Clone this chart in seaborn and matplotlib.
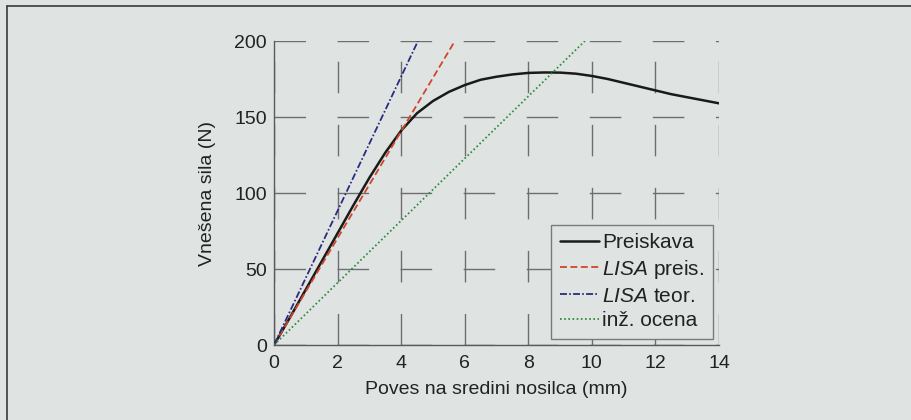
import matplotlib
matplotlib.use("Agg")
import matplotlib.pyplot as plt
import seaborn as sns
import pandas as pd
from matplotlib.lines import Line2D

# ---- data ----
preiskava_x = [0, 0.5, 1, 1.5, 2, 2.5, 3, 3.5, 4, 4.5, 5, 5.5, 6, 6.5, 7, 7.5, 8, 8.5,
               9, 9.5, 10, 10.5, 11, 11.5, 12, 12.5, 13, 13.5, 14, 14.1]
preiskava_y = [0, 18, 36.5, 55, 73.5, 92, 110, 126.5, 141, 152.5, 160.5, 166.5, 171, 174.5,
               176.5, 178, 179, 179.3, 179.2, 178.5, 177, 175, 172.5, 170, 167.5, 165, 163,
               161, 159, 158.5]
lisa_preis_x = [0, 5.69]
lisa_preis_y = [0, 200]
lisa_teor_x = [0, 4.53]
lisa_teor_y = [0, 200]
inz_x = [0, 9.78]
inz_y = [0, 200]
x_ticks = [0, 2, 4, 6, 8, 10, 12, 14]
y_ticks = [0, 50, 100, 150, 200]
labels = ["Preiskava", r"$\mathit{LISA}$ preis.", r"$\mathit{LISA}$ teor.", "inž. ocena"]

BG = "#dfe4e3"
TXT = "#222222"

sns.set_style("white")
plt.rcParams["font.family"] = ["Liberation Sans", "DejaVu Sans"]
plt.rcParams["mathtext.fontset"] = "custom"
plt.rcParams["mathtext.it"] = "Liberation Sans:italic"
plt.rcParams["mathtext.rm"] = "Liberation Sans"
plt.rcParams["lines.scale_dashes"] = False

fig = plt.figure(figsize=(9.11, 4.2), dpi=100, facecolor=BG)
ax = fig.add_axes([274 / 911, 75 / 420, 445 / 911, 304 / 420])
ax.set_facecolor(BG)

df_p = pd.DataFrame({"x": preiskava_x, "y": preiskava_y})
df_r = pd.DataFrame({"x": lisa_preis_x, "y": lisa_preis_y})
df_b = pd.DataFrame({"x": lisa_teor_x, "y": lisa_teor_y})
df_g = pd.DataFrame({"x": inz_x, "y": inz_y})

sns.lineplot(data=df_p, x="x", y="y", ax=ax, color="#1a1a1a", lw=1.8, label=labels[0], zorder=4)
sns.lineplot(data=df_r, x="x", y="y", ax=ax, color="#d2442c", lw=1.3, label=labels[1], zorder=5)
sns.lineplot(data=df_b, x="x", y="y", ax=ax, color="#2a2a80", lw=1.3, label=labels[2], zorder=5)
sns.lineplot(data=df_g, x="x", y="y", ax=ax, color="#2e8a3a", lw=1.3, label=labels[3], zorder=5)
lines = ax.get_lines()
lines[1].set_linestyle((0, (5, 2.5)))
lines[2].set_linestyle((0, (5, 1.6, 1.2, 1.6)))
lines[3].set_linestyle((0, (1.2, 1.8)))

ax.set_xlim(0, 14)
ax.set_ylim(0, 200)
ax.set_xticks(x_ticks)
ax.set_yticks(y_ticks)
ax.tick_params(length=0, labelsize=14, labelcolor=TXT)
ax.tick_params(axis="x", pad=7)
ax.tick_params(axis="y", pad=5)
ax.grid(True, color="#6e6e6e", lw=1.0, linestyle=(0, (22.7, 22.7)))
ax.set_axisbelow(True)
for s in ["top", "right"]:
    ax.spines[s].set_visible(False)
for s in ["left", "bottom"]:
    ax.spines[s].set_color("#5a5a5a")
    ax.spines[s].set_linewidth(1.0)

ax.set_xlabel("Poves na sredini nosilca (mm)", fontsize=14, color=TXT, labelpad=7)
ax.set_ylabel("Vnešena sila (N)", fontsize=14, color=TXT, labelpad=13)

leg = ax.legend(loc="lower right", fontsize=15, frameon=True, fancybox=False,
                handlelength=1.9, handletextpad=0.15, labelspacing=0.28,
                borderaxespad=0.3, borderpad=0.4)
leg.get_frame().set_facecolor(BG)
leg.get_frame().set_edgecolor("#7a7a7a")
leg.get_frame().set_linewidth(1.0)
leg.get_frame().set_alpha(1)
for t in leg.get_texts():
    t.set_color(TXT)

# page frame lines
fig.add_artist(Line2D([7 / 911, 1], [1 - 6 / 420, 1 - 6 / 420], transform=fig.transFigure,
                      color="#3a3a3a", lw=1.2))
fig.add_artist(Line2D([7 / 911, 7 / 911], [0, 1 - 6 / 420], transform=fig.transFigure,
                      color="#3a3a3a", lw=1.2))

fig.savefig("out.png", dpi=100, facecolor=BG)
